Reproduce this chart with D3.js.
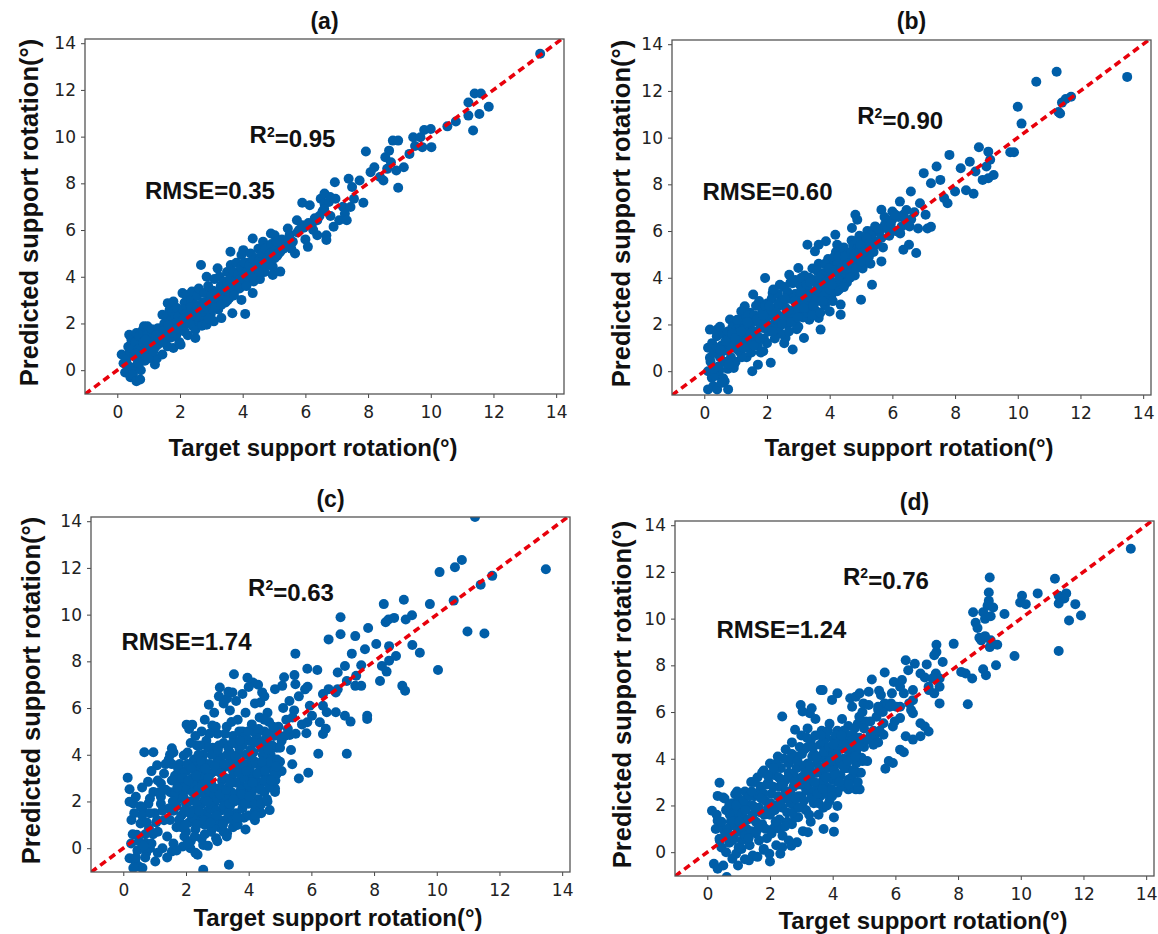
<!DOCTYPE html>
<html>
<head>
<meta charset="utf-8">
<script src="https://cdn.jsdelivr.net/npm/d3@7"></script>
<style>
  body { margin: 0; background: #fff; }
  .tick text { font-family: "DejaVu Sans", sans-serif; font-size: 17px; fill: #222; }
  .tick line { stroke: #444; }
  .lbl { font-family: "Liberation Sans", Arial, sans-serif; font-weight: bold; fill: #111; }
</style>
</head>
<body>
<div id="chart"></div>
<script>
// ---- data ----
const panelTitles = ['(a)', '(b)', '(c)', '(d)']
const r2Values = ['0.95', '0.90', '0.63', '0.76']
const rmseValues = ['0.35', '0.60', '1.74', '1.24']
const tickValues = [0, 2, 4, 6, 8, 10, 12, 14]
const xTitle = 'Target support rotation(°)'
const yTitle = 'Predicted support rotation(°)'

// [target, predicted]
const pointsA = [
  [0.14,0.67],[0.2,0.3],[0.25,-0.1],[0.3,0.5],[0.32,0.24],[0.35,1.0],[0.38,1.52],[0.4,0.8],[0.42,-0.3],[0.44,0.95],
  [0.45,1.3],[0.5,0.1],[0.5,-0.2],[0.55,0.6],[0.58,1.2],[0.61,1.59],[0.61,-0.47],[0.65,0.3],[0.68,0.9],[0.7,1.45],
  [0.73,-0.4],[0.75,0.0],[0.78,0.6],[0.8,1.7],[0.82,1.2],[0.85,1.88],[0.88,0.4],[0.9,0.9],[0.95,1.5],[0.96,1.88],
  [1.0,1.1],[1.02,0.7],[1.08,1.24],[1.1,1.75],[1.15,1.4],[1.2,0.24],[1.22,1.0],[1.26,0.5],[1.3,1.8],[1.35,1.2],
  [1.4,1.5],[1.44,0.67],[1.44,1.66],[1.44,2.37],[1.5,2.0],[1.55,1.3],[1.58,2.3],[1.6,1.02],[1.61,2.87],[1.65,1.7],
  [1.67,2.59],[1.7,2.1],[1.72,1.4],[1.75,2.5],[1.79,0.95],[1.79,2.94],[1.8,1.8],[1.85,2.3],[1.88,1.5],[1.9,2.66],
  [1.93,2.0],[1.98,1.2],[2.02,1.09],[2.05,2.4],[2.08,3.3],[2.1,1.8],[2.14,1.66],[2.15,2.9],[2.2,3.22],[2.22,2.2],
  [2.25,1.5],[2.3,2.6],[2.35,3.0],[2.38,3.37],[2.4,1.9],[2.45,2.4],[2.49,1.38],[2.49,1.73],[2.5,2.8],[2.55,3.2],
  [2.58,2.1],[2.6,3.5],[2.62,2.5],[2.67,4.5],[2.7,1.9],[2.72,2.9],[2.78,3.3],[2.8,2.3],[2.85,1.95],[2.85,4.0],
  [2.88,2.7],[2.9,3.6],[2.95,3.1],[2.98,2.4],[3.02,2.8],[3.05,3.4],[3.08,2.09],[3.1,3.9],[3.15,3.0],[3.2,4.36],
  [3.22,2.6],[3.26,4.0],[3.28,3.5],[3.32,2.23],[3.35,3.2],[3.38,3.3],[3.4,3.8],[3.45,2.9],[3.5,4.2],[3.52,3.5],
  [3.58,3.1],[3.61,5.07],[3.62,4.5],[3.65,3.7],[3.67,2.44],[3.7,4.0],[3.75,3.4],[3.79,3.93],[3.8,4.6],[3.85,3.6],
  [3.9,4.2],[3.96,3.01],[3.96,4.93],[3.98,3.8],[4.02,5.14],[4.05,4.3],[4.08,2.41],[4.1,3.9],[4.15,4.6],[4.2,4.0],
  [4.25,5.0],[4.3,4.4],[4.32,3.3],[4.32,5.64],[4.35,3.8],[4.4,4.8],[4.45,4.3],[4.5,5.2],[4.55,3.9],[4.6,4.6],
  [4.65,5.5],[4.7,4.2],[4.75,4.9],[4.79,5.28],[4.85,4.5],[4.9,5.85],[4.96,4.43],[4.96,4.08],[5.02,4.79],[5.02,5.78],
  [5.05,5.3],[5.1,4.9],[5.2,5.07],[5.2,4.22],[5.25,5.6],[5.32,5.5],[5.4,5.3],[5.44,6.07],[5.5,5.8],[5.55,5.2],
  [5.67,5.0],[5.73,6.42],[5.8,6.0],[5.9,6.21],[5.9,7.17],[6.0,5.6],[6.08,5.28],[6.14,7.06],[6.2,6.21],[6.3,6.5],
  [6.38,5.78],[6.38,6.42],[6.49,7.34],[6.55,6.8],[6.61,7.56],[6.61,7.13],[6.67,5.78],[6.67,5.57],[6.75,7.2],[6.79,7.41],
  [6.9,6.14],[6.94,8.05],[6.96,7.34],[7.08,6.42],[7.2,7.0],[7.26,6.7],[7.32,6.42],[7.38,8.2],[7.44,6.99],[7.49,7.84],
  [7.55,7.34],[7.73,8.12],[7.85,7.17],[7.93,9.36],[8.08,8.48],[8.2,8.69],[8.38,8.27],[8.49,8.12],[8.55,9.12],[8.61,8.62],
  [8.67,9.4],[8.73,8.9],[8.79,9.83],[8.9,8.55],[8.96,9.83],[8.96,7.81],[9.14,8.69],[9.32,9.26],[9.44,9.97],[9.5,9.6],
  [9.67,9.97],[9.73,9.55],[9.79,10.28],[10.0,10.33],[10.02,9.55],[10.53,10.44],[10.8,10.65],[11.2,11.46],[11.2,10.9],[11.35,10.26],
  [11.4,11.85],[11.55,10.97],[11.6,11.85],[11.85,11.28],[13.49,13.55],
  [0.6,0.7],[0.7,0.3],[0.85,0.8],[0.9,1.3],[1.0,0.5],[1.1,1.0],[1.15,0.8],[1.25,1.5],[1.3,1.1],[1.45,1.2],
  [1.5,1.7],[1.6,1.5],[1.68,1.9],[1.75,1.6],[1.85,2.0],[1.95,2.3],[2.0,1.9],[2.05,2.1],[2.1,2.6],[2.18,2.4],
  [2.25,2.0],[2.3,2.3],[2.35,2.7],[2.42,2.2],[2.48,2.5],[2.55,2.7],[2.6,2.3],[2.68,2.6],[2.75,2.5],[2.82,2.9],
  [2.9,2.6],[2.95,2.9],[3.0,3.2],[3.05,2.6],[3.1,3.0],[3.18,3.3],[3.25,2.9],[3.3,3.6],[3.38,3.0],[3.45,3.4],
  [3.5,3.7],[3.55,3.3],[3.6,3.9],[3.68,3.5],[3.72,4.2],[3.8,3.9],[3.85,4.1],[3.9,3.5],[3.95,4.4],[4.0,3.9],
  [4.05,4.6],[4.12,4.2],[4.18,3.8],[4.22,4.5],[4.28,4.1],[4.35,4.7],[4.42,4.5],[4.48,4.0],[4.52,4.7],[4.58,4.4],
  [4.62,5.0],[4.68,4.6],[4.72,5.2],[4.8,4.8],[4.88,5.0],[4.92,5.4],[5.0,5.1],[5.08,5.5],[5.15,5.0],[5.3,5.2],
  [5.45,5.6],[5.6,5.5],[5.75,5.9],[5.95,6.1],[6.1,6.3],[6.25,6.0],[6.45,6.6],[6.6,6.9],[6.8,6.6],
  [1.32,1.4],[1.62,1.9],[1.92,1.8],[2.12,2.2],[2.32,2.0],[2.52,2.3],[2.72,2.7],[2.92,2.2],[3.12,2.7],[3.32,2.8],
  [3.52,3.0],[3.72,3.2],[3.92,3.9],[4.12,3.6],[4.32,4.0],[4.52,4.2]
]

const pointsB = [
  [13.49,12.6],[11.24,12.82],[10.59,12.39],[10.0,11.32],[10.12,10.6],[11.35,11.03],[11.3,11.1],[11.41,11.5],[11.53,11.65],[11.7,11.75],
  [9.76,9.37],[9.88,9.37],[8.76,9.59],[8.47,8.97],[9.06,9.4],[9.12,9.05],[9.0,8.76],[9.23,8.4],[9.06,8.26],[8.88,8.19],
  [8.65,8.55],[8.59,7.6],[8.35,7.75],[8.18,8.69],[7.82,9.26],[7.41,8.76],[7.0,8.48],[7.23,8.05],[7.53,8.19],[7.65,7.41],
  [7.76,7.19],[8.0,7.69],[7.12,6.11],[7.23,6.18],[6.82,6.11],[6.76,5.06],[6.53,5.41],[6.35,5.2],[6.59,7.69],[6.88,7.19],
  [7.06,6.7],[5.65,6.91],[6.0,6.84],[6.24,7.26],[6.35,6.7],[5.76,6.27],[5.53,5.98],[5.29,5.98],[5.41,5.56],[5.65,4.7],
  [5.35,3.7],[5.0,3.06],[4.82,6.7],[4.88,6.48],[4.71,6.13],[5.18,5.27],[4.94,5.13],[5.06,4.7],[4.18,5.84],[3.88,5.56],
  [4.24,5.41],[3.65,5.41],[3.29,5.41],[3.53,5.13],[4.35,4.84],[4.12,4.56],[4.71,4.13],[4.47,3.7],[4.24,3.42],[4.35,2.85],
  [4.35,2.42],[3.76,3.13],[4.0,2.56],[3.65,2.28],[3.71,1.78],[1.94,3.99],[1.56,3.28],[2.18,3.35],[2.41,3.7],[2.71,4.13],
  [3.0,4.42],[2.82,3.77],[3.18,3.85],[3.18,1.42],[2.82,0.93],[2.12,0.36],[1.71,0.28],[1.53,0.0],[2.59,1.42],[2.35,1.71],
  [1.88,1.85],[1.41,2.14],[1.29,2.78],[1.18,2.56],[0.94,1.85],[0.82,2.21],[0.71,1.57],[1.06,1.28],[1.41,1.0],[1.88,0.85],
  [0.18,1.78],[0.41,1.78],[0.12,1.0],[0.18,0.57],[0.12,0.0],[0.24,-0.28],[0.29,-0.64],[0.12,-0.78],[0.41,-0.78],[0.76,-0.78],
  [0.65,-0.43],[0.47,0.0],[0.71,0.36],[0.59,0.85],[0.94,0.14],
  [0.2,0.4],[0.25,1.2],[0.3,0.8],[0.35,-0.2],[0.4,1.5],[0.45,0.2],[0.5,0.6],[0.55,1.1],[0.6,-0.3],[0.62,1.6],
  [0.7,0.9],[0.75,0.1],[0.8,1.3],[0.85,0.6],[0.9,1.9],[0.95,1.0],[1.0,0.4],[1.05,1.6],[1.1,2.0],[1.15,0.8],
  [1.2,1.3],[1.25,2.2],[1.3,1.6],[1.35,0.6],[1.4,1.9],[1.45,2.5],[1.5,1.3],[1.55,2.1],[1.6,1.7],[1.65,2.8],
  [1.7,1.1],[1.75,2.3],[1.8,1.9],[1.85,2.6],[1.9,1.4],[1.95,2.2],[2.0,2.9],[2.05,1.7],[2.1,2.4],[2.15,3.1],
  [2.2,2.0],[2.25,1.4],[2.3,2.7],[2.35,3.3],[2.4,2.2],[2.45,1.6],[2.5,2.9],[2.55,3.6],[2.6,2.4],[2.65,2.0],
  [2.7,3.1],[2.75,3.8],[2.8,2.6],[2.85,2.2],[2.9,3.3],[2.95,1.8],[3.0,2.9],[3.05,3.7],[3.1,2.5],[3.15,3.2],
  [3.2,4.1],[3.25,2.7],[3.3,3.5],[3.35,2.2],[3.4,3.0],[3.45,4.4],[3.5,3.3],[3.55,2.6],[3.6,3.8],[3.65,4.6],
  [3.7,3.0],[3.75,3.6],[3.8,4.2],[3.85,2.8],[3.9,3.4],[3.95,4.8],[4.0,4.0],[4.05,3.2],[4.1,4.5],[4.15,3.7],
  [4.2,5.1],[4.25,4.2],[4.3,3.5],[4.35,4.8],[4.4,4.0],[4.45,5.3],[4.5,4.5],[4.55,3.8],[4.6,5.0],[4.65,4.3],
  [4.7,5.6],[4.75,4.7],[4.8,4.1],[4.85,5.2],[4.9,4.6],[4.95,5.8],[5.0,5.0],[5.05,4.4],[5.1,5.5],[5.15,4.9],
  [5.2,6.0],[5.25,5.3],[5.3,4.6],[5.35,5.7],[5.4,5.1],[5.45,6.2],[5.5,5.5],[5.6,6.0],[5.7,5.3],[5.8,6.3],
  [5.9,5.8],[6.0,6.5],[6.1,6.0],[6.2,6.6],[6.3,6.2],[6.45,6.9],[6.6,6.5],
  [0.3,0.1],[0.4,1.0],[0.5,1.9],[0.55,-0.5],[0.65,0.4],[0.75,1.7],[0.85,1.1],[0.95,0.3],[1.05,2.2],[1.1,1.3],
  [1.2,0.6],[1.25,1.8],[1.35,1.3],[1.4,2.4],[1.5,0.8],[1.55,1.7],[1.6,2.4],[1.7,1.5],[1.75,3.0],[1.8,0.8],
  [1.9,2.0],[1.95,2.8],[2.0,1.2],[2.1,1.9],[2.15,2.6],[2.2,3.5],[2.3,1.8],[2.35,2.4],[2.45,3.0],[2.5,2.2],
  [2.55,1.2],[2.6,2.7],[2.65,3.4],[2.7,1.7],[2.8,3.1],[2.85,2.4],[2.9,3.9],[2.95,2.7],[3.0,1.9],[3.05,3.1],
  [3.1,4.0],[3.15,2.3],[3.2,2.9],[3.25,3.7],[3.3,2.5],[3.35,4.0],[3.4,3.3],[3.45,2.4],[3.5,3.9],[3.55,3.0],
  [3.6,4.3],[3.65,3.4],[3.7,2.5],[3.75,4.1],[3.8,3.3],[3.85,4.6],[3.9,3.0],[3.95,3.9],[4.0,3.5],[4.05,4.4],
  [4.1,3.0],[4.15,4.9],[4.2,3.8],[4.25,4.6],[4.3,4.1],[4.4,5.0],[4.45,3.6],[4.5,4.2],[4.55,5.0],[4.65,4.0],
  [4.7,4.8],[4.75,5.4],[4.85,4.4],[4.9,5.3],[5.0,4.7],[5.05,5.6],[5.15,5.2],[5.25,4.9],[5.3,5.8],[5.45,5.4],
  [5.55,6.1],[5.65,5.7],[5.75,6.6],[5.85,6.1],[5.95,6.3],[6.1,6.7],[6.25,5.9],[6.4,6.5],[6.55,6.2],[6.7,6.8],
  [0.52,0.9],[0.68,1.3],[0.78,0.3],[0.88,1.6],[0.98,1.4],[1.08,0.9],[1.18,1.7],[1.28,1.0],[1.38,2.1],[1.48,1.6],
  [1.58,1.1],[1.68,2.2],[1.78,1.4],[1.88,2.4],[1.98,1.9],[2.08,2.8],[2.18,1.7],[2.28,2.3],[2.38,2.9],[2.48,2.0],
  [2.58,3.1],[2.68,2.6],[2.78,2.1],[2.88,3.0],[2.98,2.3],[3.08,3.4],[3.18,2.7],[3.28,3.2],[3.38,3.8],[3.48,2.8],
  [3.58,3.5],[3.68,4.0],[3.78,3.0],[3.88,3.8],[3.98,4.4],[4.08,3.7],[4.18,4.3],[4.28,4.9],[4.38,4.4],[4.48,4.9],
  [4.58,4.6],[4.68,5.1],[4.78,5.0],[4.88,5.6],[4.98,5.4],[5.08,5.1],[5.18,5.7],[5.28,5.5]
]

const pointsC = [
  [11.22,14.18],[13.48,11.94],[10.8,12.34],[10.58,12.03],[10.09,11.82],[11.77,11.66],[11.4,11.28],[10.54,10.6],[9.78,10.45],[10.98,9.28],
  [11.52,9.19],[10.04,7.63],[8.95,10.64],[8.31,10.45],[8.37,9.67],[8.46,9.79],[8.64,9.86],[9.21,9.97],[9.01,9.79],[6.93,9.89],
  [6.55,8.94],[6.93,9.16],[7.4,9.08],[7.81,9.43],[8.07,8.74],[8.48,8.65],[9.22,8.7],[9.46,8.37],[8.7,8.23],[8.48,8.03],
  [8.25,7.8],[8.4,7.56],[8.19,7.16],[7.71,8.52],[7.29,8.33],[7.07,7.8],[6.84,7.52],[7.59,7.83],[7.43,7.38],[7.4,6.95],
  [7.59,6.95],[7.13,7.16],[6.84,6.81],[8.9,6.95],[8.99,6.74],[5.49,8.33],[5.87,7.68],[6.19,7.63],[5.46,7.41],[5.49,7.02],
  [5.88,6.91],[6.37,6.6],[6.55,6.81],[6.78,6.67],[6.49,5.82],[6.78,5.82],[7.07,5.67],[7.25,5.42],[7.78,5.67],[7.78,5.53],
  [6.37,6.1],[6.02,5.67],[5.87,5.39],[6.27,5.39],[6.46,5.11],[6.37,4.89],[5.84,4.92],[5.31,4.85],[6.22,4.04],[7.13,4.04],
  [5.9,3.23],[5.6,2.98],[5.39,3.59],[5.13,7.32],[5.07,6.95],[4.84,6.81],[4.43,6.67],[4.37,6.24],[4.14,7.09],[3.96,7.3],
  [3.53,7.45],[3.08,6.88],[2.73,6.14],[3.48,6.67],[3.31,6.41],[2.02,5.29],[2.2,5.29],[2.84,5.25],[0.67,4.11],[0.96,4.11],
  [1.08,3.55],[1.55,4.28],[1.49,4.0],[1.93,3.97],[0.14,3.02],[0.2,2.52],[1.2,2.77],[0.79,2.84],[0.2,1.99],[0.32,1.91],
  [0.61,1.7],[0.85,2.13],[0.96,2.41],[0.26,1.21],[0.55,1.06],[0.82,0.85],[1.08,1.21],[1.49,1.21],[0.2,-0.43],[0.38,-0.57],
  [0.49,-0.78],[0.61,-0.85],[0.32,-0.85],[0.73,-0.21],[0.85,0.0],[1.02,-0.57],[0.43,0.57],[0.73,0.21],[1.55,-0.14],[1.9,0.07],
  [2.14,0.0],[2.37,-0.28],[2.55,-0.92],[3.37,-0.71],[2.55,0.14],[3.61,0.99],[3.31,0.64],[2.96,0.43],[4.37,1.84],[4.67,1.63],
  [4.84,2.41],[4.84,2.55],[4.9,3.19],[4.78,3.69],
  [1.5,2.4],[1.6,1.6],[1.65,3.1],[1.7,0.9],[1.75,2.1],[1.8,3.6],[1.85,1.4],[1.9,2.7],[1.95,0.5],[2.0,1.9],
  [2.0,3.3],[2.05,4.1],[2.1,1.1],[2.1,2.5],[2.15,0.3],[2.2,3.0],[2.2,1.6],[2.25,3.8],[2.3,2.2],[2.3,0.8],
  [2.35,4.4],[2.4,1.3],[2.4,2.8],[2.45,3.4],[2.5,0.4],[2.5,1.9],[2.55,4.0],[2.55,2.5],[2.6,1.0],[2.6,3.1],
  [2.65,4.6],[2.7,1.6],[2.7,2.2],[2.75,3.6],[2.8,0.7],[2.8,2.8],[2.85,4.3],[2.9,1.3],[2.9,1.9],[2.95,3.3],
  [3.0,2.5],[3.0,4.9],[3.05,0.9],[3.1,3.9],[3.1,1.6],[3.15,2.9],[3.2,4.5],[3.2,2.1],[3.25,1.2],[3.3,3.5],
  [3.3,5.2],[3.35,2.6],[3.4,1.8],[3.4,4.1],[3.45,3.0],[3.5,0.9],[3.5,4.8],[3.55,2.3],[3.6,3.6],[3.6,1.5],
  [3.65,5.5],[3.7,2.8],[3.7,4.3],[3.75,2.0],[3.8,3.3],[3.8,5.0],[3.85,1.3],[3.9,4.0],[3.9,2.6],[3.95,3.0],
  [4.0,4.6],[4.0,1.9],[4.05,3.5],[4.1,5.3],[4.1,2.4],[4.15,4.1],[4.2,3.0],[4.2,1.6],[4.25,4.8],[4.3,3.6],
  [4.3,2.1],[4.35,5.6],[4.4,4.3],[4.4,2.8],[4.45,3.2],[4.5,5.0],[4.5,2.4],[4.55,3.8],[4.6,4.5],[4.6,3.0],
  [4.65,5.4],[4.7,4.0],[4.75,3.4],[4.8,4.8],[4.85,2.9],[4.9,4.3],[4.95,5.2],[5.0,3.7],[5.05,4.6],[5.1,6.0],
  [5.2,5.5],[5.3,6.3],[5.35,4.2],[5.45,5.9],[5.5,4.9],[5.6,6.5],[5.7,5.3],[5.8,6.8],[5.95,6.1],
  [0.5,0.3],[0.6,1.4],[0.7,0.6],[0.8,1.9],[0.9,0.2],[1.0,1.5],[1.1,0.7],[1.2,1.9],[1.25,0.0],[1.3,1.2],
  [1.35,2.5],[1.4,0.5],[1.45,1.7],[1.55,3.6],[1.6,0.2],[1.7,2.9],[1.3,3.2],[1.1,2.9],[0.9,3.3],[1.2,2.2],
  [0.6,2.6],[0.4,2.2],[0.25,0.2],[0.45,-0.1],[0.7,-0.4],[1.1,-0.2],[1.4,-0.4],[1.7,-0.1],[2.0,0.7],[2.3,-0.2],
  [2.7,0.1],[3.0,0.3],[3.3,0.5],[3.9,0.8],[4.2,1.2],[4.4,1.5],[4.6,2.0],
  [2.6,5.5],[2.9,5.8],[3.2,6.2],[3.4,5.9],[3.6,6.3],[3.9,5.8],[4.2,6.2],[4.5,6.5],[4.0,6.9],[4.6,5.8],
  [2.95,5.2],[3.05,6.5],[3.35,6.7],[3.8,6.6],[4.3,7.0],
  [1.55,2.9],[1.6,4.1],[1.7,1.8],[1.75,3.4],[1.8,2.4],[1.85,0.9],[1.9,3.2],[1.95,1.6],[2.0,2.6],[2.05,0.2],
  [2.05,3.6],[2.1,2.0],[2.15,4.5],[2.2,1.3],[2.25,2.7],[2.3,3.5],[2.35,1.0],[2.35,1.9],[2.4,4.0],[2.45,2.4],
  [2.5,3.0],[2.5,1.5],[2.55,3.7],[2.6,0.6],[2.6,2.1],[2.65,2.8],[2.7,4.3],[2.7,1.3],[2.75,2.5],[2.75,4.9],
  [2.8,1.9],[2.8,3.2],[2.85,0.9],[2.9,2.3],[2.9,4.0],[2.95,1.6],[3.0,3.7],[3.0,2.1],[3.05,4.4],[3.05,1.2],
  [3.1,2.6],[3.15,3.4],[3.2,0.7],[3.2,1.8],[3.25,3.0],[3.25,4.9],[3.3,2.2],[3.35,4.3],[3.35,1.5],[3.4,3.7],
  [3.45,2.4],[3.45,5.4],[3.5,1.2],[3.5,3.3],[3.55,4.5],[3.55,2.0],[3.6,2.8],[3.65,4.0],[3.65,1.0],[3.7,3.5],
  [3.7,5.0],[3.75,2.5],[3.8,1.7],[3.8,4.4],[3.85,3.0],[3.9,2.2],[3.9,4.8],[3.95,3.6],[4.0,1.4],[4.0,2.7],
  [4.05,4.2],[4.1,3.2],[4.15,1.9],[4.15,5.0],[4.2,3.7],[4.25,2.6],[4.3,4.5],[4.35,3.3],[4.4,1.9],[4.45,4.0],
  [4.5,2.9],[4.5,5.5],[4.55,3.5],[4.6,4.9],[4.65,2.6],[4.7,3.7],[4.75,4.4],[4.8,3.1],[4.85,5.0],[4.9,3.8],
  [5.0,4.3],[5.05,3.3],[5.15,4.8],[5.25,5.1],[5.4,5.6],[1.45,3.8],[1.35,3.6],[1.65,2.3],[1.25,1.6],[1.15,2.4],
  [1.05,1.1],[0.95,0.6],[0.85,1.5],[0.75,1.1],[0.65,0.1],[0.55,1.8],[0.35,1.5],[0.3,0.6],[0.4,-0.4],[2.1,5.1],
  [2.3,4.8],[2.5,5.0],[2.45,4.4],
  [1.58,2.0],[1.72,2.6],[1.78,1.2],[1.88,3.0],[1.92,2.2],[1.98,1.0],[2.08,2.9],[2.12,1.5],[2.18,3.4],[2.22,2.4],
  [2.28,0.5],[2.32,3.1],[2.38,2.5],[2.42,1.6],[2.48,3.7],[2.52,2.7],[2.58,1.2],[2.62,3.4],[2.68,2.0],[2.72,3.0],
  [2.78,1.1],[2.82,4.0],[2.88,2.6],[2.92,3.5],[2.98,1.4],[3.02,4.2],[3.08,2.3],[3.12,3.2],[3.18,1.0],[3.22,3.6],
  [3.28,2.5],[3.32,4.0],[3.38,1.9],[3.42,2.8],[3.48,4.5],[3.52,2.1],[3.58,3.9],[3.62,1.3],[3.68,3.2],[3.72,4.6],
  [3.78,2.3],[3.82,3.6],[3.88,1.9],[3.92,3.3],[3.98,5.0],[4.02,2.2],[4.08,3.9],[4.12,2.8],[4.18,4.5],[4.22,1.4],
  [4.28,3.2],[4.32,5.1],[4.38,2.5],[4.42,3.7],[4.48,4.6],[4.52,3.3],[4.58,2.1],[4.62,4.2],[4.72,2.9],[4.78,5.2],
  [4.88,3.5],[4.98,4.8]
]

const pointsD = [
  [13.51,12.99],[11.09,11.71],[9.01,11.76],[8.98,11.12],[8.98,10.76],[10.54,11.08],[10.04,10.98],[9.98,10.69],[10.16,10.62],[11.21,10.98],
  [11.45,11.08],[11.39,10.86],[11.21,10.65],[11.74,10.62],[11.92,10.13],[11.54,9.92],[11.21,8.61],[8.48,10.27],[8.94,10.55],[9.12,10.48],
  [8.8,10.27],[9.48,10.2],[8.56,9.82],[8.62,9.6],[8.86,9.99],[9.04,10.1],[8.68,9.18],[8.74,9.07],[9.04,9.07],[9.25,8.88],
  [9.01,8.78],[8.86,9.25],[9.8,8.4],[9.21,8.0],[8.8,7.83],[8.89,7.58],[8.45,7.44],[8.24,7.65],[8.1,7.72],[8.31,6.33],
  [7.86,8.92],[7.31,8.88],[7.31,8.57],[7.24,8.43],[7.51,8.14],[7.0,8.04],[7.29,7.65],[7.41,7.44],[7.18,7.44],[6.94,7.48],
  [6.8,7.65],[7.41,7.08],[7.06,7.08],[7.24,6.8],[7.41,6.37],[7.07,6.94],[6.33,8.22],[6.41,7.79],[6.62,8.07],[6.56,6.94],
  [6.27,6.8],[6.56,6.51],[6.44,6.37],[6.15,7.08],[6.21,7.37],[5.66,7.69],[5.95,7.29],[5.48,6.91],[5.25,7.39],[5.15,6.87],
  [5.54,6.73],[5.89,6.8],[5.86,6.37],[5.66,6.37],[5.45,6.23],[5.82,6.23],[6.15,6.23],[6.5,6.09],[6.56,5.95],[6.15,5.74],
  [5.98,5.6],[6.8,5.52],[6.94,5.38],[7.06,5.17],[6.8,4.96],[6.56,4.82],[6.33,4.96],[6.03,6.23],[5.92,5.38],[5.62,5.52],
  [5.33,4.96],[5.62,5.03],[5.45,4.7],[6.27,4.28],[6.15,4.39],[5.79,3.9],[5.68,3.57],[5.92,3.82],[4.56,6.59],[4.74,6.66],
  [4.98,6.37],[4.86,6.8],[4.62,6.23],[4.15,6.8],[3.98,6.52],[3.68,6.94],[3.62,6.94],[2.98,6.3],[3.33,6.16],[3.27,5.95],
  [2.39,5.81],[3.04,6.02],[2.8,5.24],[0.39,2.97],[0.33,2.41],[0.51,2.34],[0.15,1.77],[0.33,1.35],[0.27,0.99],[0.39,0.57],
  [0.56,0.71],[0.21,-0.5],[0.33,-0.71],[0.62,-1.06],[0.51,-0.57],[0.8,-0.28],[0.98,-0.57],[0.92,-0.07],[1.09,0.14],[1.33,-0.35],
  [1.45,-0.14],[1.8,0.14],[1.98,-0.07],[2.33,-0.07],[2.39,0.21],[2.68,0.28],[2.86,0.42],[3.21,0.85],[3.71,0.99],[4.04,0.88],
  [0.89,2.48],[1.09,1.98],[0.98,1.42],[4.56,4.39],[4.68,4.04],[4.92,4.04],[4.8,3.4],[4.86,2.69],[4.74,2.69],[4.5,2.69],
  [4.15,2.55],[4.15,1.98],[4.04,1.49],
  [0.5,1.0],[0.6,1.8],[0.7,0.4],[0.75,1.3],[0.8,2.1],[0.85,0.7],[0.9,1.6],[1.0,2.3],[1.0,0.9],[1.05,1.9],
  [1.1,0.5],[1.15,1.4],[1.2,2.6],[1.25,1.0],[1.3,2.0],[1.35,0.3],[1.4,3.0],[1.45,1.6],[1.5,2.4],[1.55,0.8],
  [1.6,3.2],[1.65,1.9],[1.7,2.8],[1.75,1.2],[1.8,3.5],[1.85,2.2],[1.9,0.6],[1.95,3.0],[2.0,1.6],[2.0,3.8],
  [2.05,2.5],[2.1,1.0],[2.15,3.3],[2.2,2.0],[2.25,4.1],[2.3,1.4],[2.3,2.8],[2.35,3.6],[2.4,0.7],[2.45,2.3],
  [2.5,4.4],[2.5,3.1],[2.55,1.7],[2.6,3.8],[2.65,2.6],[2.7,1.2],[2.7,4.7],[2.75,3.3],[2.8,2.0],[2.85,4.1],
  [2.9,2.9],[2.9,1.5],[2.95,3.7],[3.0,5.0],[3.0,2.4],[3.05,0.9],[3.1,4.4],[3.1,3.1],[3.15,1.8],[3.2,3.8],
  [3.2,5.3],[3.25,2.6],[3.3,4.8],[3.3,1.3],[3.35,3.4],[3.4,2.1],[3.4,4.2],[3.45,5.7],[3.5,2.9],[3.5,3.8],
  [3.55,1.6],[3.6,4.6],[3.6,2.4],[3.65,5.2],[3.7,3.3],[3.7,1.9],[3.75,4.0],[3.8,2.8],[3.8,4.9],[3.85,3.6],
  [3.9,2.2],[3.9,5.5],[3.95,4.3],[4.0,3.1],[4.05,4.8],[4.1,2.6],[4.1,3.8],[4.15,5.2],[4.2,4.4],[4.25,3.3],
  [4.3,5.7],[4.35,4.0],[4.4,2.9],[4.4,4.9],[4.45,3.6],[4.5,5.4],[4.55,4.3],[4.6,3.2],[4.65,5.0],[4.7,4.6],
  [4.75,3.8],[4.8,5.5],[4.85,4.9],[4.9,3.4],[4.95,6.0],[5.0,4.5],[5.05,5.6],[5.1,3.9],[5.15,6.3],[5.2,5.0],
  [5.3,4.6],[5.4,5.8],[5.5,5.2],[5.6,6.0],[1.6,-0.2],[2.0,-0.4],[2.6,0.5],[1.2,-0.3],[0.45,0.2],[0.3,1.6],
  [0.55,2.3],[2.2,0.3],[1.8,0.1],
  [0.4,0.5],[0.45,1.3],[0.6,0.0],[0.65,1.0],[0.7,2.0],[0.8,0.5],[0.85,1.7],[0.9,1.1],[0.95,2.6],[1.0,0.2],
  [1.1,1.6],[1.15,2.2],[1.2,0.7],[1.3,1.4],[1.35,2.4],[1.4,0.9],[1.45,2.0],[1.5,3.0],[1.55,1.3],[1.6,2.5],
  [1.65,0.5],[1.7,1.7],[1.75,3.4],[1.8,2.5],[1.85,1.0],[1.9,2.9],[1.95,1.9],[2.0,3.3],[2.05,0.8],[2.1,2.8],
  [2.15,1.8],[2.2,3.8],[2.25,2.4],[2.3,1.0],[2.35,3.1],[2.4,1.9],[2.45,4.0],[2.5,2.6],[2.55,1.3],[2.6,3.4],
  [2.65,2.1],[2.7,4.2],[2.75,2.8],[2.8,1.5],[2.85,3.6],[2.9,2.4],[2.95,4.5],[3.0,3.2],[3.05,1.9],[3.1,3.7],
  [3.15,2.7],[3.2,4.5],[3.25,1.6],[3.3,3.1],[3.35,4.1],[3.4,2.6],[3.45,5.0],[3.5,3.4],[3.55,2.1],[3.6,4.1],
  [3.65,3.0],[3.7,4.7],[3.75,2.5],[3.8,3.8],[3.85,5.2],[3.9,3.2],[3.95,2.7],[4.0,4.1],[4.05,3.5],[4.1,5.0],
  [4.15,3.0],[4.2,4.7],[4.25,3.9],[4.3,2.8],[4.35,5.2],[4.4,3.6],[4.45,4.4],[4.5,3.1],[4.55,5.0],[4.6,4.0],
  [4.65,3.5],[4.7,5.3],[4.75,4.3],[4.8,3.0],[4.85,5.8],[4.9,4.6],[4.95,3.9],[5.0,5.3],[5.1,4.8],[5.2,5.6],
  [5.3,5.2],[5.45,6.1],
  [1.12,1.1],[1.22,1.8],[1.32,0.6],[1.42,2.6],[1.52,1.9],[1.62,1.0],[1.72,2.3],[1.82,1.6],[1.92,3.3],[2.02,2.1],
  [2.12,3.6],[2.18,1.3],[2.28,3.2],[2.32,2.1],[2.42,2.9],[2.48,1.1],[2.58,3.2],[2.62,2.3],[2.68,4.0],[2.72,1.7],
  [2.78,3.0],[2.82,2.3],[2.88,3.9],[2.92,1.9],[2.98,2.9],[3.02,4.2],[3.08,2.2],[3.12,3.4],[3.18,4.9],[3.22,2.9],
  [3.28,3.7],[3.32,2.3],[3.38,4.5],[3.42,3.0],[3.48,4.1],[3.52,2.5],[3.58,3.6],[3.62,5.0],[3.68,2.7],[3.72,4.3],
  [3.78,3.2],[3.82,2.0],[3.88,4.5],[3.92,3.9],[3.98,2.4],[4.02,4.6],[4.08,3.3],[4.12,4.2],[4.22,3.0],[4.28,5.0],
  [4.32,3.7],[4.42,4.6],[4.48,3.9],[4.52,2.9],[4.62,4.8],[4.72,4.1],[4.82,4.5],[0.62,0.8],[0.72,1.6],[0.82,1.3],
  [0.92,2.0],[1.02,1.3]
]

const panelPoints = [pointsA, pointsB, pointsC, pointsD]

// ---- layout ----
const W = 1158, H = 934
const pw = 479, ph = 355
const xDomain = [-1.03, 14.25]
const yDomain = [-1.02, 14.18]
const layout = [
  { left: 85,  top: 39,  titleY: 29,  yLabX: 29,  xLabX: 313, xLabY: 456, r2: [4.22, 10.1],  rmse: [0.88, 7.7] },
  { left: 672, top: 40,  titleY: 29,  yLabX: 621, xLabX: 909, xLabY: 456, r2: [4.88, 10.95], rmse: [-0.06, 7.72] },
  { left: 91,  top: 517, titleY: 507, yLabX: 31,  xLabX: 338, xLabY: 926, r2: [3.98, 11.15], rmse: [-0.06, 8.85] },
  { left: 675, top: 521, titleY: 510, yLabX: 622, xLabX: 923, xLabY: 929, r2: [4.33, 11.83], rmse: [0.29, 9.53] }
]

const svg = d3.select('#chart').append('svg').attr('width', W).attr('height', H)

layout.forEach((L, i) => {
  const x = d3.scaleLinear().domain(xDomain).range([0, pw])
  const y = d3.scaleLinear().domain(yDomain).range([ph, 0])
  const g = svg.append('g').attr('transform', `translate(${L.left},${L.top})`)

  g.append('clipPath').attr('id', 'clip' + i)
    .append('rect').attr('width', pw).attr('height', ph)

  g.append('g')
    .attr('clip-path', `url(#clip${i})`)
    .selectAll('circle')
    .data(panelPoints[i])
    .join('circle')
    .attr('cx', d => x(d[0]))
    .attr('cy', d => y(d[1]))
    .attr('r', 5)
    .attr('fill', '#005ea8')

  // 1:1 reference line
  g.append('line')
    .attr('clip-path', `url(#clip${i})`)
    .attr('x1', x(xDomain[0])).attr('y1', y(xDomain[0]))
    .attr('x2', x(yDomain[1])).attr('y2', y(yDomain[1]))
    .attr('stroke', '#e8000b')
    .attr('stroke-width', 3.6)
    .attr('stroke-dasharray', '7,4.5')

  const xa = g.append('g').attr('transform', `translate(0,${ph})`)
    .call(d3.axisBottom(x).tickValues(tickValues).tickSize(4).tickPadding(8))
  const ya = g.append('g')
    .call(d3.axisLeft(y).tickValues(tickValues).tickSize(4).tickPadding(5))
  xa.select('.domain').remove()
  ya.select('.domain').remove()

  g.append('rect')
    .attr('width', pw).attr('height', ph)
    .attr('fill', 'none').attr('stroke', '#555').attr('stroke-width', 1.3)

  svg.append('text').attr('class', 'lbl')
    .attr('x', L.left + pw / 2).attr('y', L.titleY)
    .attr('text-anchor', 'middle').style('font-size', '23px')
    .text(panelTitles[i])

  svg.append('text').attr('class', 'lbl')
    .attr('x', L.xLabX).attr('y', L.xLabY)
    .attr('text-anchor', 'middle').style('font-size', '24px')
    .text(xTitle)

  svg.append('text').attr('class', 'lbl')
    .attr('transform', `translate(${L.yLabX},${L.top + ph / 2 - 4}) rotate(-90)`)
    .attr('dy', '0.35em')
    .attr('text-anchor', 'middle').style('font-size', '25.5px')
    .text(yTitle)

  const r2 = g.append('text').attr('class', 'lbl')
    .attr('x', x(L.r2[0])).attr('y', y(L.r2[1])).attr('dy', '0.36em')
    .style('font-size', '24px')
  r2.append('tspan').text('R')
  r2.append('tspan').attr('dy', '-0.45em').style('font-size', '14px').text('2')
  r2.append('tspan').attr('dy', '0.45em').text('=' + r2Values[i])

  g.append('text').attr('class', 'lbl')
    .attr('x', x(L.rmse[0])).attr('y', y(L.rmse[1])).attr('dy', '0.36em')
    .style('font-size', '24px')
    .text('RMSE=' + rmseValues[i])
})
</script>
</body>
</html>
